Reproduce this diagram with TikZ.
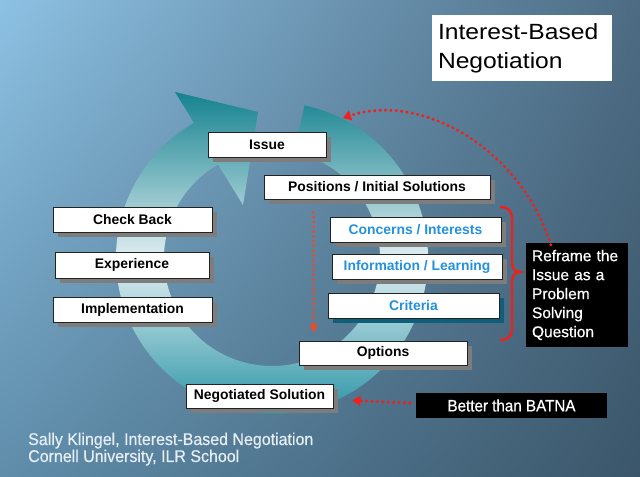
\documentclass[tikz,border=0pt]{standalone}
\usepackage{fontspec}
\setmainfont{Liberation Sans}
\newfontfamily\titlefont{Liberation Sans}[FakeStretch=1.12]
\newfontfamily\narrowfont{Liberation Sans}[FakeStretch=0.92, FakeBold=0.6]
\newfontfamily\medfont{Liberation Sans}[FakeBold=0.6]
\newfontfamily\footfont{Liberation Sans}[FakeStretch=0.94, FakeBold=0.5]
\usetikzlibrary{arrows.meta,shadows,shadings,calc}
\definecolor{bgUL}{HTML}{8DC1E3}
\definecolor{bgUR}{HTML}{4D6C84}
\definecolor{bgLL}{HTML}{5F8DAA}
\definecolor{bgLR}{HTML}{3B566A}
\definecolor{ringTop}{HTML}{14828F}
\definecolor{ringMid}{HTML}{E2EFF2}
\definecolor{ringBot}{HTML}{1A8C9F}
\definecolor{boxline}{HTML}{222222}
\definecolor{shadowgray}{HTML}{7D7D7D}
\definecolor{critshadow}{HTML}{0F5F7A}
\definecolor{lblblue}{HTML}{2391DC}
\definecolor{dotred}{HTML}{F0201C}
\definecolor{dotorange}{HTML}{F24824}
\definecolor{foottext}{HTML}{E6EEF4}
\begin{document}
\begin{tikzpicture}[x=1bp,y=1bp,
  lbl/.style={draw=boxline, line width=0.8bp, fill=white, inner sep=0pt,
    font=\fontsize{13.9bp}{16bp}\selectfont\bfseries,
    general shadow={fill=shadowgray, shadow xshift=5bp, shadow yshift=-5bp}},
  bluelbl/.style={lbl, text=lblblue},
  blackbox/.style={fill=black, text=white, inner sep=0pt},
  dotline/.style={dotred, line width=3.4bp, line cap=round, dash pattern=on 0bp off 5.4bp},
  dotarrow/.style={dotline, -{Triangle[width=10bp,length=8bp]}},
  vdotarrow/.style={dotorange, line width=3bp, line cap=round, dash pattern=on 0bp off 4.8bp,
    -{Triangle[width=8bp,length=8bp]}},
  bracepath/.style={draw=dotred, line width=2.4bp},
]
\useasboundingbox (0,0) rectangle (640,477);
% background
\shade[upper left=bgUL, upper right=bgUR, lower left=bgLL, lower right=bgLR] (0,0) rectangle (640,477);

% circular arrow
\coordinate (C) at (272,219);
\shade[top color=ringTop, bottom color=ringBot, middle color=ringMid]
  ($(C)+(78:156)$) arc[start angle=78, end angle=-240, radius=156]
  -- (175,385) -- (258,365) -- (243,272)
  -- ($(C)+(120:108)$) arc[start angle=120, end angle=438, radius=108] -- cycle;

% title
\node[fill=white, minimum width=180bp, minimum height=66bp,
  text width=168bp, inner xsep=6bp, align=left,
  font=\titlefont\fontsize{22bp}{29bp}\selectfont] (title) at (522,429)
  {Interest-Based\\Negotiation};

% boxes
\node[lbl, minimum width=118bp, minimum height=25bp] (issue) at (267,332.5) {Issue};
\node[lbl, minimum width=226bp, minimum height=24bp] (pos) at (377,290) {Positions / Initial Solutions};
\node[lbl, minimum width=159bp, minimum height=25bp] (check) at (132.5,257.5) {Check Back};
\node[lbl, minimum width=154bp, minimum height=26bp] (exp) at (132,212) {Experience};
\node[lbl, minimum width=159bp, minimum height=25bp] (impl) at (132.5,167.5) {Implementation};
\node[bluelbl, minimum width=171bp, minimum height=25bp] (conc) at (415.5,247.5) {Concerns / Interests};
\node[bluelbl, minimum width=170bp, minimum height=25bp] (info) at (417,210.5) {Information / Learning};
\node[bluelbl, minimum width=171bp, minimum height=25bp,
  general shadow={fill=critshadow, shadow xshift=5bp, shadow yshift=-5bp}] (crit) at (413.5,171.5) {Criteria};
\node[lbl, minimum width=168bp, minimum height=24bp] (opt) at (383,124) {Options};
\node[lbl, minimum width=147bp, minimum height=24bp] (neg) at (259.5,81) {Negotiated Solution};

% black boxes
\node[blackbox, minimum width=191bp, minimum height=25bp,
  font=\narrowfont\fontsize{16.5bp}{19bp}\selectfont] (batna) at (511.5,71.5) {Better than BATNA};
\node[blackbox, minimum width=102bp, minimum height=104bp, text width=90bp, inner xsep=6bp, align=left,
  font=\medfont\fontsize{15.5bp}{19bp}\selectfont] (reframe) at (577,182)
  {Reframe the\\Issue as a\\Problem\\Solving\\Question};

% brace
\draw[bracepath] (500,270) .. controls (510,270) and (512,265) .. (512,257) -- (512,215)
  .. controls (512,209) and (515,205) .. (520,205)
  .. controls (515,205) and (512,201) .. (512,195) -- (512,150)
  .. controls (512,142) and (510,137) .. (500,137);

% dotted arrows
\coordinate (reftop) at ($(reframe.north west)+(25,-2)$);
\coordinate (ringtop) at (343,359);
\draw[dotarrow] (reftop) .. controls (520,330) and (420,385) .. (ringtop);
\coordinate (vstart) at ($(pos.south west)+(50,-13)$);
\coordinate (vend) at ($(opt.north west)+(15,8)$);
\draw[vdotarrow] (vstart) -- (vstart |- vend);
\draw[dotarrow] ([xshift=-6bp,yshift=2.5bp]batna.west) -- ([xshift=19bp,yshift=-4.5bp]neg.east);

% footer
\node[anchor=base west, text=foottext, inner sep=0pt, font=\footfont\fontsize{17bp}{17bp}\selectfont] (foot1) at (28,32)
  {Sally Klingel, Interest-Based Negotiation};
\node[anchor=base west, text=foottext, inner sep=0pt, font=\footfont\fontsize{17bp}{17bp}\selectfont] (foot2) at (28,15)
  {Cornell University, ILR School};
\end{tikzpicture}
\end{document}
